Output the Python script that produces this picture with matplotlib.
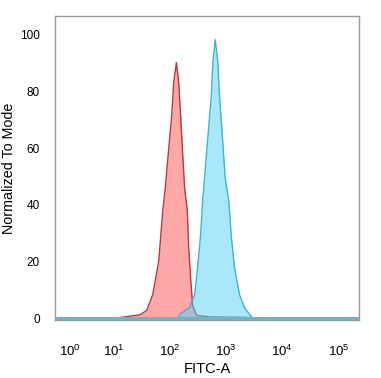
import matplotlib
matplotlib.use("Agg")
import matplotlib.pyplot as plt
from matplotlib.ticker import FixedLocator, NullLocator

plt.rcParams['font.family'] = ['Liberation Sans', 'DejaVu Sans']
plt.rcParams['mathtext.fontset'] = 'custom'
plt.rcParams['mathtext.rm'] = 'Liberation Sans'

# red histogram (control), FITC intensity vs % of mode
red_x = [10, 16, 24, 29.4, 39.2, 50, 63.9, 75.2, 83.3, 96, 108.5, 117.7, 131.4,
         144.3, 156.6, 167.9, 184.3, 205.6, 216.8, 235.3, 255.5, 300.5, 510, 2606, 3000]
red_y = [0, 0.5, 1.0, 1.2, 2.8, 8.4, 20.3, 37.8, 45.8, 59.8, 71.3, 83.2, 90.2,
         83.2, 71.3, 59.8, 45.8, 37.8, 25.5, 14.0, 4.5, 1.0, 0.5, 0.3, 0]

# cyan histogram (stained sample)
cyan_x = [-0.4, 138.6, 150.3, 225.9, 276.9, 313, 353.9, 383.7, 428.6, 490, 547, 584, 644,
          716, 767, 843, 968, 1122, 1236, 1414, 1734, 2124, 2606, 3000, 230000]
cyan_y = [0, 0, 1.4, 3.8, 8.4, 17.8, 29.4, 41.3, 52.8, 66.8, 78.3, 90.2, 98.3,
          90.2, 78.3, 66.8, 49.3, 41.3, 29.4, 17.8, 8.4, 3.8, 1.4, 0, 0]

ticks = [1, 10, 100, 1000, 10000, 100000]
tick_labels = [r'$\mathregular{10^{%d}}$' % i for i in range(6)]
yticks = [0, 20, 40, 60, 80, 100]

fig = plt.figure(figsize=(3.81, 3.78), dpi=100)
ax = fig.add_axes([55 / 381, 1 - 320 / 378, 304 / 381, 304 / 378])

ax.set_xscale('asinh', linear_width=2.2)

# red first, cyan on top (semi-transparent)
ax.fill_between(red_x, red_y, 0, color='#ff4a4a', alpha=0.48, lw=0, zorder=2)
ax.plot(red_x, red_y, color='#b8383c', lw=1.0, zorder=3)
ax.fill_between(cyan_x, cyan_y, 0, color='#4cd0f8', alpha=0.48, lw=0, zorder=4)
ax.plot(cyan_x, cyan_y, color='#3fb2d2', lw=1.0, zorder=5)
ax.plot([cyan_x[0], cyan_x[-1]], [0, 0], color='#6fb3c4', lw=2.2, zorder=6)

ax.set_xlim(-0.4, 230000)
ax.set_ylim(-0.6, 106.6)

ax.xaxis.set_major_locator(FixedLocator(ticks))
ax.xaxis.set_minor_locator(NullLocator())
ax.set_xticklabels(tick_labels)
ax.set_yticks(yticks)
ax.tick_params(axis='x', length=0, pad=17, labelsize=9.5)
ax.tick_params(axis='y', length=0, pad=11, labelsize=8.5)

for s in ax.spines.values():
    s.set_color('#9a9a9a')
    s.set_linewidth(1.0)

ax.set_xlabel('FITC-A', fontsize=10.5, labelpad=2)
ax.set_ylabel('Normalized To Mode', fontsize=10.3, labelpad=3)

fig.savefig('out.png', dpi=100)
